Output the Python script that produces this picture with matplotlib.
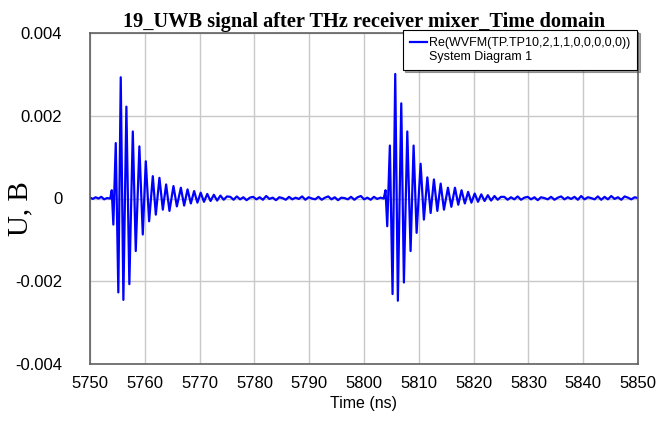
import numpy as np
import matplotlib
matplotlib.use("Agg")
import matplotlib.pyplot as plt
from matplotlib.lines import Line2D

# Datos (extremos de cada oscilacion)
pre_ruido = [0.00002, -0.00001, 0.00003, 0.0, 0.00004, -0.00002, 0.00001]

pulso1_t = [5753.7, 5753.97, 5754.26, 5754.70, 5755.17, 5755.61, 5756.09, 5756.64,
            5757.18, 5757.81, 5758.35, 5759.01, 5759.63, 5760.18, 5760.79, 5761.46,
            5762.01, 5762.67, 5763.29, 5763.89, 5764.50, 5765.23, 5765.85, 5766.58,
            5767.18, 5767.8, 5768.4, 5769.0, 5769.6, 5770.2, 5770.8, 5771.4,
            5772.0, 5772.6, 5773.2, 5773.8, 5774.4, 5775.0]
pulso1_v = [0.0, 0.0002, -0.00063, 0.00134, -0.00227, 0.00293, -0.00245, 0.00222,
            -0.00207, 0.00162, -0.00127, 0.00126, -0.00087, 0.0009, -0.00055, 0.00054,
            -0.00039, 0.0005, -0.00027, 0.00034, -0.0003, 0.0003, -0.00019, 0.00026,
            -0.00017, 0.00022, -0.00012, 0.00018, -0.0001, 0.00014, -0.00008, 0.00011,
            -0.00006, 0.00009, -0.00005, 0.00007, -0.00003, 0.00005]

hueco_ruido = [0.00004, -0.00003, 0.00005, -0.00002, 0.00003, -0.00004, 0.00002, 0.00004,
               -0.00002, 0.00003, -0.00003, 0.00006, -0.00001, 0.00002, -0.00004, 0.00003,
               0.00001, -0.00003, 0.00004, -0.00002, 0.00002, -0.00001, 0.00005, -0.00003,
               0.00003, 0.0, -0.00002, 0.00004, -0.00003, 0.00002, 0.00005, -0.00002,
               0.00003, -0.00004, 0.00002, 0.00001, -0.00002, 0.00004, -0.00003, 0.00003,
               0.00006, -0.00002, 0.00002, -0.00003, 0.00004, -0.00001, 0.00002]

pulso2_t = [5803.6, 5803.93, 5804.24, 5804.72, 5805.21, 5805.70, 5806.18, 5806.80,
            5807.28, 5807.90, 5808.50, 5809.05, 5809.60, 5810.33, 5810.93, 5811.56,
            5812.16, 5812.76, 5813.38, 5813.99, 5814.59, 5815.32, 5815.94, 5816.6,
            5817.2, 5817.8, 5818.4, 5819.0, 5819.6, 5820.2, 5820.8, 5821.4,
            5822.0, 5822.6, 5823.2, 5823.8, 5824.4, 5825.0]
pulso2_v = [0.0, 0.0002, -0.00067, 0.00128, -0.00231, 0.00301, -0.00247, 0.0023,
            -0.00203, 0.00162, -0.00127, 0.00128, -0.00083, 0.00084, -0.00051, 0.00051,
            -0.00035, 0.00046, -0.0003, 0.00036, -0.00027, 0.00026, -0.0002, 0.00026,
            -0.00015, 0.0002, -0.00012, 0.00016, -0.0001, 0.00012, -0.00008, 0.0001,
            -0.00006, 0.00008, -0.00005, 0.00006, -0.00003, 0.00004]

post_ruido = [0.00004, -0.00003, 0.00003, -0.00002, 0.00005, -0.00003, 0.00002, 0.00004,
              -0.00002, 0.00003, -0.00004, 0.00003, 0.00001, -0.00002, 0.00004, -0.00003,
              0.00002, 0.00005, -0.00002, 0.00003, -0.00001, 0.00004, -0.00003, 0.00006,
              -0.00002, 0.00003, 0.00001, -0.00002, 0.00005, -0.00003, 0.00004, -0.00002,
              0.00006, -0.00001, 0.00003, -0.00003, 0.00005, 0.00002, -0.00002, 0.00003,
              0.00001]

x_ticks = [5750, 5760, 5770, 5780, 5790, 5800, 5810, 5820, 5830, 5840, 5850]
y_ticks = [-0.004, -0.002, 0, 0.002, 0.004]
y_etiquetas = ['-0.004', '-0.002', '0', '0.002', '0.004']

# Unir los tramos en una sola senal
t = np.concatenate((np.linspace(5750, 5753.1, len(pre_ruido)), pulso1_t,
                    np.linspace(5775.6, 5803.0, len(hueco_ruido)), pulso2_t,
                    np.linspace(5825.6, 5850, len(post_ruido))))
u = np.concatenate((pre_ruido, pulso1_v, hueco_ruido, pulso2_v, post_ruido))

fig = plt.figure(figsize=(6.6, 4.25), dpi=100)
ax = fig.add_axes([90/660, 1-364/425, 548/660, 331/425])

ax.plot(t, u, color='#0000ff', linewidth=1.6)

ax.set_xlim(5750, 5850)
ax.set_ylim(-0.004, 0.004)
ax.set_xticks(x_ticks)
ax.set_xticklabels([str(v) for v in x_ticks], fontsize=12, family='Liberation Sans')
ax.set_yticks(y_ticks)
ax.set_yticklabels(y_etiquetas, fontsize=12, family='Liberation Sans')
ax.tick_params(axis='x', length=0, pad=9)
ax.tick_params(axis='y', length=0, pad=20)
ax.grid(True, color='#c8c8c8', linewidth=1)
for lado in ['left', 'bottom', 'top', 'right']:
    ax.spines[lado].set_color('#606060')
    ax.spines[lado].set_linewidth(1.2)

ax.set_title('19_UWB signal after THz receiver mixer_Time domain',
             fontsize=14.7, fontweight='bold', family='Liberation Serif', pad=4)
ax.set_xlabel('Time (ns)', fontsize=11.5, family='Liberation Sans', labelpad=3)
fig.text(20/660, 1-209/425, 'U, B', rotation=90, ha='center', va='center',
         fontsize=21, family='Liberation Serif')

# Leyenda con segunda linea sin simbolo
h1 = Line2D([], [], color='#0000ff', linewidth=1.6)
h2 = Line2D([], [], color='none')
leg = ax.legend([h1, h2], ['Re(WVFM(TP.TP10,2,1,1,0,0,0,0,0))', 'System Diagram 1'],
                loc='upper right', bbox_to_anchor=(637/660, 1-30/425),
                bbox_transform=fig.transFigure, borderaxespad=0,
                prop={'family': 'Liberation Sans', 'size': 9},
                fancybox=False, shadow=True, framealpha=1, edgecolor='black',
                handlelength=1.4, handletextpad=0.15, labelspacing=0.15,
                borderpad=0.55)
leg.get_frame().set_linewidth(0.8)

fig.savefig('out.png', dpi=100)
